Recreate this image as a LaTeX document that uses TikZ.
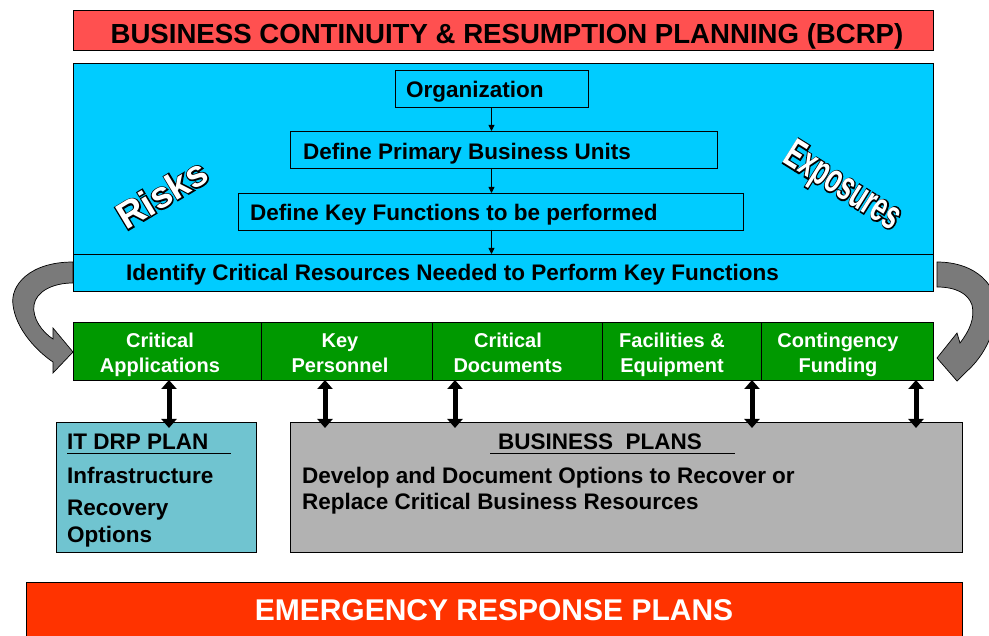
\documentclass[tikz,border=0pt]{standalone}
\usepackage{fontspec}
\setmainfont{Liberation Sans}
\newfontfamily\fatfont[FakeBold=7]{Liberation Sans Bold}
\usetikzlibrary{arrows.meta,calc}
\definecolor{titlered}{HTML}{FF5050}
\definecolor{skyblue}{HTML}{00CCFF}
\definecolor{grn}{HTML}{009900}
\definecolor{itblue}{HTML}{70C4D0}
\definecolor{plangray}{HTML}{B2B2B2}
\definecolor{emerg}{HTML}{FF3300}
\definecolor{arrowgray}{HTML}{7A7A7A}
\begin{document}
\begin{tikzpicture}[x=1pt,y=-1pt,
  box/.style={draw=black, line width=0.8pt, inner sep=0pt, outer sep=0pt},
  txa/.style={inner sep=0pt, font=\fontsize{22.5}{26}\selectfont\bfseries},
  txg/.style={inner sep=0pt, text=white, align=center, font=\fontsize{20}{25}\selectfont\bfseries},
  smallarr/.style={line width=0.8pt, -{Triangle[length=6pt,width=6pt]}},
  dbl/.style={line width=5pt, {Triangle[length=9pt,width=15pt]}-{Triangle[length=9pt,width=15pt]}},
  curv/.style={fill=arrowgray, draw=black, line width=0.7pt},
  rk/.style={inner sep=0pt, rotate=31},
  ex/.style={inner sep=0pt, rotate=-32, xscale=0.62}
]
\useasboundingbox (0,0) rectangle (989,636);
\begin{scope}
\clip (0,0) rectangle (989,636);
% curved arrows
\draw[curv] (73,262) .. controls (30,262) and (10,285) .. (13,305) .. controls (16,330) and (38,352) .. (53,362) -- (53,373) -- (73,352) -- (53,328) -- (53,339) .. controls (42,332) and (32,318) .. (34,305) .. controls (36,292) and (52,283) .. (73,283) -- cycle;
\draw[curv] (937,262) .. controls (975,262) and (1000,285) .. (996,315) .. controls (993,340) and (980,360) .. (966,372) -- (957,381) -- (937,358) -- (957,333) -- (960,343) .. controls (970,330) and (975,318) .. (972,305) .. controls (968,293) and (955,287) .. (937,287) -- cycle;
\end{scope}

% title
\node[box, fill=titlered, minimum width=860pt, minimum height=40pt] (title) at (503,30) {};
\node[inner sep=0pt, anchor=base, font=\fontsize{27.6}{30}\selectfont\bfseries] (titletxt) at (507,44) {BUSINESS CONTINUITY \& RESUMPTION PLANNING (BCRP)};

% blue area
\node[box, fill=skyblue, minimum width=860pt, minimum height=228pt] (blue) at (503,177) {};
\coordinate (bandL) at (73,254);
\coordinate (bandR) at (933,254);
\draw[line width=0.8pt] (bandL) -- (bandR);

\node[box, minimum width=193pt, minimum height=37pt] (org) at (491.5,88.5) {};
\node[txa, anchor=base west] (orgtxt) at (406,98) {Organization};
\node[box, minimum width=427pt, minimum height=37pt] (dpb) at (503.5,149.5) {};
\node[txa, anchor=base west] (dpbtxt) at (303,160) {Define Primary Business Units};
\node[box, minimum width=505pt, minimum height=37pt] (dkf) at (490.5,211.5) {};
\node[txa, anchor=base west] (dkftxt) at (250,221) {Define Key Functions to be performed};

\draw[smallarr] (org.south) -- (org.south |- dpb.north);
\draw[smallarr] (dpb.south -| org.south) -- (org.south |- dkf.north);
\draw[smallarr] (dkf.south -| org.south) -- (org.south |- bandL);

\node[txa, anchor=base west] (idtxt) at (126,281) {Identify Critical Resources Needed to Perform Key Functions};

% Risks / Exposures outlined text
\node[rk, text=black, font=\fontsize{37}{40}\fatfont] (risksbg) at (162,194) {Risks};
\node[rk, text=white, font=\fontsize{37}{40}\selectfont\bfseries] (risks) at (162,194) {Risks};
\node[ex, text=black, font=\fontsize{41}{44}\fatfont] (expobg) at (842,188) {Exposures};
\node[ex, text=white, font=\fontsize{41}{44}\selectfont\bfseries] (expo) at (842,188) {Exposures};

% green band
\node[box, fill=grn, minimum width=188pt, minimum height=58pt] (g1) at (167,351) {};
\node[box, fill=grn, minimum width=171pt, minimum height=58pt] (g2) at (346.5,351) {};
\node[box, fill=grn, minimum width=170pt, minimum height=58pt] (g3) at (517,351) {};
\node[box, fill=grn, minimum width=159pt, minimum height=58pt] (g4) at (681.5,351) {};
\node[box, fill=grn, minimum width=172pt, minimum height=58pt] (g5) at (847,351) {};
\node[txg, anchor=base] (g1t) at (160,373) {Critical\\Applications};
\node[txg, anchor=base] (g2t) at (340,373) {Key\\Personnel};
\node[txg, anchor=base] (g3t) at (508,373) {Critical\\Documents};
\node[txg, anchor=base] (g4t) at (672,373) {Facilities \&\\Equipment};
\node[txg, anchor=base] (g5t) at (838,373) {Contingency\\Funding};

% lower boxes
\node[box, fill=itblue, minimum width=200pt, minimum height=130pt] (it) at (156,487) {};
\node[txa, anchor=base west] (it1) at (67,450) {IT DRP PLAN};
\coordinate (ulA) at (67,453.5);
\coordinate (ulB) at (231,453.5);
\draw[line width=1.8pt] (ulA) -- (ulB);
\node[txa, anchor=base west] (it2) at (67,483) {Infrastructure};
\node[txa, anchor=base west] (it3) at (67,515) {Recovery};
\node[txa, anchor=base west] (it4) at (67,542) {Options};

\node[box, fill=plangray, minimum width=672pt, minimum height=130pt] (bp) at (626,487) {};
\node[txa, anchor=base west] (bp1) at (498,450) {BUSINESS\ \ PLANS};
\coordinate (ulC) at (490,453.5);
\coordinate (ulD) at (735,453.5);
\draw[line width=1.8pt] (ulC) -- (ulD);
\node[txa, anchor=base west] (bp2) at (302,483) {Develop and Document Options to Recover or};
\node[txa, anchor=base west] (bp3) at (302,510) {Replace Critical Business Resources};

% double arrows
\coordinate (d1t) at (169,380); \coordinate (d1b) at (169,428);
\coordinate (d2t) at (325,380); \coordinate (d2b) at (325,428);
\coordinate (d3t) at (455,380); \coordinate (d3b) at (455,428);
\coordinate (d4t) at (752,380); \coordinate (d4b) at (752,428);
\coordinate (d5t) at (916,380); \coordinate (d5b) at (916,428);
\draw[dbl] (d1t) -- (d1b);
\draw[dbl] (d2t) -- (d2b);
\draw[dbl] (d3t) -- (d3b);
\draw[dbl] (d4t) -- (d4b);
\draw[dbl] (d5t) -- (d5b);

% emergency
\node[box, fill=emerg, minimum width=936pt, minimum height=60pt] (em) at (494,612) {};
\node[inner sep=0pt, anchor=base, text=white, font=\fontsize{30}{32}\selectfont\bfseries] (emt) at (494,620) {EMERGENCY RESPONSE PLANS};
\end{tikzpicture}
\end{document}
